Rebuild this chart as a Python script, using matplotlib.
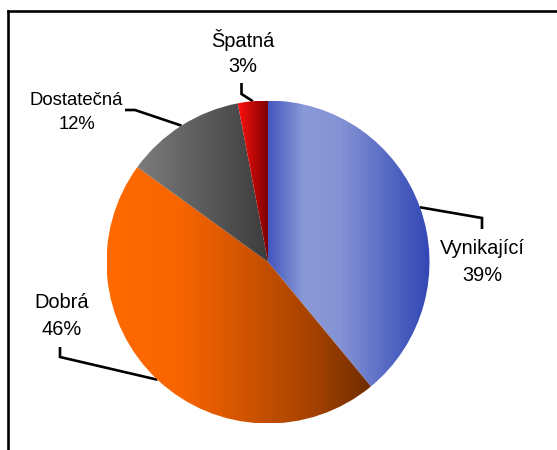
import numpy as np
import matplotlib
matplotlib.use("Agg")
import matplotlib.pyplot as plt
from matplotlib.colors import LinearSegmentedColormap

plt.rcParams['font.family'] = ['Liberation Sans', 'DejaVu Sans']

# ---- data ----
categories = ["Vynikající", "Dobrá", "Dostatečná", "Špatná"]
values = [39, 46, 12, 3]
pct_labels = ["39%", "46%", "12%", "3%"]

W, H, DPI = 557, 450, 100
fig = plt.figure(figsize=(W / DPI, H / DPI), dpi=DPI)

# overlay axes in pixel coordinates
ov = fig.add_axes([0, 0, 1, 1])
ov.set_xlim(0, W)
ov.set_ylim(H, 0)
ov.axis('off')

# pie axes
cx, cy, R = 268, 262, 161.5
axp = fig.add_axes([(cx - R) / W, (H - cy - R) / H, 2 * R / W, 2 * R / H])
wedges, _ = axp.pie(values, startangle=90, counterclock=False, radius=1,
                    wedgeprops=dict(linewidth=0, edgecolor='none'))
axp.set_xlim(-1, 1)
axp.set_ylim(-1, 1)
axp.set_aspect('equal')
axp.axis('off')

gradients = [
    [(0.0, '#4357bd'), (0.22, '#8a99d8'), (0.45, '#8593d4'), (0.75, '#5468c4'), (1.0, '#3347b5')],
    [(0.0, '#ff6a00'), (0.28, '#f76400'), (0.55, '#cc5200'), (0.8, '#a04000'), (1.0, '#6e2c00')],
    [(0.0, '#7c7c7c'), (1.0, '#3c3c3c')],
    [(0.0, '#ff1010'), (1.0, '#7a0000')],
]

grad = np.linspace(0, 1, 256).reshape(1, -1)
for w, stops in zip(wedges, gradients):
    cmap = LinearSegmentedColormap.from_list('g', stops)
    verts = w.get_verts()
    dverts = axp.transData.inverted().transform(verts)
    x0, x1 = dverts[:, 0].min(), dverts[:, 0].max()
    y0, y1 = dverts[:, 1].min(), dverts[:, 1].max()
    w.set_facecolor('none')
    im = axp.imshow(grad, cmap=cmap, extent=[x0, x1, y0, y1], aspect='auto',
                    interpolation='bilinear', zorder=1)
    im.set_clip_path(w)
axp.set_xlim(-1, 1)
axp.set_ylim(-1, 1)

# helper: pie edge point (pixel coords) at wedge mid-angle
def edge_point(w):
    th = np.deg2rad((w.theta1 + w.theta2) / 2)
    disp = axp.transData.transform((np.cos(th), np.sin(th)))
    return ov.transData.inverted().transform(disp)

lw = 1.9
# leader lines: label-side elbow points (pixels)
elbows = [
    [(482, 229), (482, 218)],
    [(60, 347), (60, 357)],
    [(125, 110), (135, 110)],
    [(241.5, 83), (241.5, 94)],
]
for w, el in zip(wedges, elbows):
    ex, ey = edge_point(w)
    xs = [el[0][0], el[1][0], ex]
    ys = [el[0][1], el[1][1], ey]
    ov.plot(xs, ys, color='black', lw=lw, solid_capstyle='butt',
            solid_joinstyle='miter', zorder=5)

# labels
label_pos = [
    (482.5, 254, 281, 14.4),
    (62, 308, 335, 14.4),
    (76.5, 105, 129, 13.3),
    (243, 47, 72, 14.4),
]
for cat, pct, (x, b1, b2, fs) in zip(categories, pct_labels, label_pos):
    ov.text(x, b1, cat, ha='center', va='baseline', fontsize=fs, color='black')
    ov.text(x, b2, pct, ha='center', va='baseline', fontsize=fs, color='black')

# chart frame (left and top edges visible)
ov.plot([8, 8], [460, 11], color='black', lw=1.9, solid_capstyle='projecting')
ov.plot([8, 570], [11, 11], color='black', lw=1.9, solid_capstyle='projecting')

fig.savefig('out.png', dpi=DPI)
